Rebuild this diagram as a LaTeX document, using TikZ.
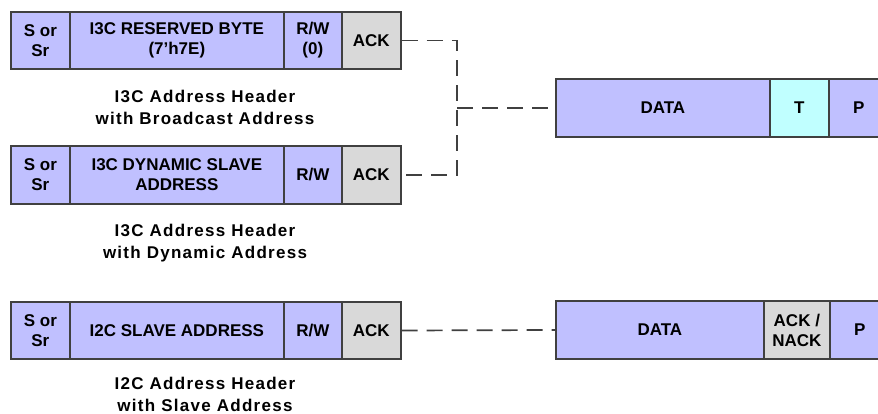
\documentclass[tikz,border=0pt]{standalone}
\usepackage{fontspec}
\setsansfont{Liberation Sans}
\newfontfamily\capfont[LetterSpace=7.5]{Liberation Sans}
\definecolor{lav}{RGB}{192,192,255}
\definecolor{ackgray}{RGB}{217,217,217}
\definecolor{tcyan}{RGB}{192,255,255}
\definecolor{edge}{RGB}{64,64,64}
\tikzset{
  cell/.style={draw=edge, line width=1.7pt, inner sep=0pt, anchor=west,
    minimum height=57.5pt, align=center,
    font=\sffamily\bfseries\fontsize{17}{20}\selectfont},
  fld/.style={cell, fill=lav},
  ackfld/.style={cell, fill=ackgray},
  tfld/.style={cell, fill=tcyan},
  caption/.style={anchor=north, inner sep=0pt, align=center,
    font=\capfont\bfseries\fontsize{17}{22}\selectfont},
  conn/.style={draw=edge, line width=1.7pt, dash pattern=on 16pt off 9pt}
}
\begin{document}
\begin{tikzpicture}[x=1pt, y=-1pt]
\useasboundingbox (0,0) rectangle (878,413);
\clip (0,0) rectangle (878,413);

% I3C header, broadcast address
\node[fld, minimum width=59pt]  (s1)   at (10,40.5)  {S or\\Sr};
\node[fld, minimum width=214pt] (adr1) at (69,40.5)  {I3C RESERVED BYTE\\(7'h7E)};
\node[fld, minimum width=58pt]  (rw1)  at (283,40.5) {R/W\\(0)};
\node[ackfld, minimum width=59pt] (ack1) at (341,40.5) {ACK};
\node[caption] (cap1) at (205,90) {I3C Address Header\\with Broadcast Address};

% I3C header, dynamic address
\node[fld, minimum width=59pt]  (s2)   at (10,175)  {S or\\Sr};
\node[fld, minimum width=214pt] (adr2) at (69,175)  {I3C DYNAMIC SLAVE\\ADDRESS};
\node[fld, minimum width=58pt]  (rw2)  at (283,175) {R/W};
\node[ackfld, minimum width=59pt] (ack2) at (341,175) {ACK};
\node[caption] (cap2) at (205,224) {I3C Address Header\\with Dynamic Address};

% I2C header, slave address
\node[fld, minimum width=59pt]  (s3)   at (10,330.5)  {S or\\Sr};
\node[fld, minimum width=214pt] (adr3) at (69,330.5)  {I2C SLAVE ADDRESS};
\node[fld, minimum width=58pt]  (rw3)  at (283,330.5) {R/W};
\node[ackfld, minimum width=59pt] (ack3) at (341,330.5) {ACK};
\node[caption] (cap3) at (205,376.5) {I2C Address Header\\with Slave Address};

% I3C data frame
\node[fld, minimum width=214pt] (data1) at (555,108) {DATA};
\node[tfld, minimum width=59pt] (t1)    at (769,108) {T};
\node[fld, minimum width=60pt]  (p1)    at (828,108) {P};

% I2C data frame
\node[fld, minimum width=208pt]   (data3) at (555,330) {DATA};
\node[ackfld, minimum width=66pt] (an3)   at (763,330) {ACK /\\NACK};
\node[fld, minimum width=60pt]    (p3)    at (829,330) {P};

% connectors
\coordinate (jn) at (457,108);
\draw[conn] (ack1.east) -| (jn) |- (ack2.east);
\draw[conn] (jn) -- (data1.west);
\draw[conn] (ack3.east) -- (data3.west);
\end{tikzpicture}
\end{document}
